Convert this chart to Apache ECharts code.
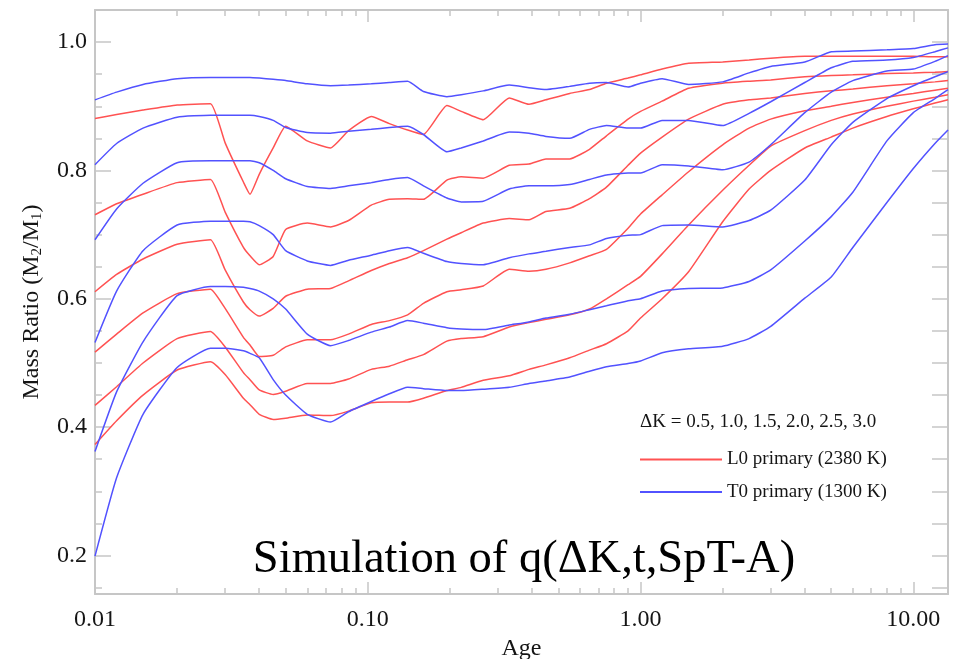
<!DOCTYPE html>
<html>
<head>
<meta charset="utf-8">
<title>Simulation of q(ΔK,t,SpT-A)</title>
<script src="https://cdn.jsdelivr.net/npm/echarts@6/dist/echarts.min.js"></script>
<style>
  html, body { margin: 0; padding: 0; background: #fff; }
  #chart { width: 955px; height: 659px; }
</style>
</head>
<body>
<div id="chart"></div>
<script>
// age (Gyr) sample points shared by every curve
const ages = [0.01, 0.012, 0.015, 0.02, 0.0265, 0.03, 0.035, 0.037, 0.04, 0.045, 0.05, 0.06, 0.073, 0.085,
  0.103, 0.12, 0.14, 0.16, 0.195, 0.22, 0.265, 0.33, 0.39, 0.45, 0.55, 0.65, 0.75, 0.9, 1.0, 1.2, 1.5,
  2, 2.5, 3, 4, 5, 6, 8, 10, 12, 13.4];

// L0 primary (2380 K), dK = 0.5 ... 3.0
const l0_05 = [0.881, 0.887, 0.894, 0.902, 0.904, 0.843, 0.782, 0.763, 0.794, 0.835, 0.869, 0.846, 0.835, 0.862,
  0.884, 0.873, 0.863, 0.856, 0.901, 0.892, 0.879, 0.913, 0.903, 0.910, 0.920, 0.926, 0.936, 0.944, 0.949, 0.958, 0.967,
  0.969, 0.972, 0.975, 0.978, 0.978, 0.978, 0.978, 0.978, 0.977, 0.977];
const l0_10 = [0.731, 0.748, 0.763, 0.781, 0.786, 0.735, 0.680, 0.667, 0.653, 0.666, 0.708, 0.718, 0.712, 0.722,
  0.746, 0.755, 0.756, 0.755, 0.785, 0.790, 0.788, 0.808, 0.810, 0.818, 0.818, 0.833, 0.854, 0.880, 0.892, 0.908, 0.928,
  0.936, 0.939, 0.941, 0.946, 0.948, 0.949, 0.951, 0.952, 0.953, 0.954];
const l0_15 = [0.611, 0.638, 0.662, 0.685, 0.692, 0.645, 0.595, 0.583, 0.573, 0.585, 0.604, 0.615, 0.616, 0.628,
  0.644, 0.655, 0.664, 0.675, 0.693, 0.703, 0.718, 0.725, 0.723, 0.736, 0.741, 0.756, 0.774, 0.808, 0.827, 0.852, 0.880,
  0.903, 0.910, 0.913, 0.920, 0.924, 0.927, 0.932, 0.935, 0.938, 0.940];
const l0_20 = [0.517, 0.545, 0.578, 0.608, 0.615, 0.585, 0.540, 0.528, 0.510, 0.512, 0.525, 0.536, 0.536, 0.545,
  0.560, 0.566, 0.575, 0.593, 0.611, 0.614, 0.620, 0.646, 0.643, 0.646, 0.656, 0.667, 0.677, 0.710, 0.732, 0.762, 0.798,
  0.840, 0.866, 0.880, 0.893, 0.900, 0.906, 0.914, 0.920, 0.925, 0.928];
const l0_25 = [0.434, 0.463, 0.500, 0.538, 0.549, 0.525, 0.485, 0.474, 0.458, 0.451, 0.456, 0.468, 0.468, 0.475,
  0.490, 0.495, 0.505, 0.513, 0.534, 0.538, 0.541, 0.556, 0.563, 0.568, 0.575, 0.584, 0.600, 0.622, 0.635, 0.670, 0.715,
  0.769, 0.808, 0.838, 0.862, 0.878, 0.888, 0.900, 0.908, 0.914, 0.918];
const l0_30 = [0.373, 0.410, 0.450, 0.489, 0.502, 0.482, 0.445, 0.435, 0.420, 0.412, 0.414, 0.419, 0.418, 0.425,
  0.438, 0.439, 0.439, 0.445, 0.457, 0.462, 0.473, 0.480, 0.490, 0.497, 0.508, 0.520, 0.530, 0.550, 0.570, 0.600, 0.642,
  0.720, 0.771, 0.800, 0.835, 0.852, 0.866, 0.884, 0.896, 0.905, 0.910];

// T0 primary (1300 K), dK = 0.5 ... 3.0
const t0_05 = [0.910, 0.922, 0.934, 0.943, 0.945, 0.945, 0.945, 0.945, 0.944, 0.942, 0.940, 0.935, 0.932, 0.933,
  0.935, 0.937, 0.939, 0.923, 0.915, 0.918, 0.924, 0.933, 0.929, 0.926, 0.931, 0.936, 0.937, 0.930, 0.936, 0.943, 0.934,
  0.938, 0.952, 0.962, 0.969, 0.985, 0.986, 0.988, 0.990, 0.996, 0.997];
const t0_10 = [0.809, 0.842, 0.866, 0.883, 0.886, 0.886, 0.886, 0.886, 0.884, 0.878, 0.867, 0.859, 0.858, 0.861,
  0.864, 0.867, 0.869, 0.856, 0.829, 0.835, 0.846, 0.860, 0.858, 0.853, 0.850, 0.864, 0.870, 0.866, 0.866, 0.878, 0.878,
  0.870, 0.889, 0.907, 0.937, 0.960, 0.970, 0.972, 0.976, 0.985, 0.991];
const t0_15 = [0.692, 0.740, 0.780, 0.812, 0.815, 0.815, 0.815, 0.815, 0.812, 0.800, 0.787, 0.775, 0.772, 0.776,
  0.781, 0.786, 0.789, 0.776, 0.757, 0.751, 0.752, 0.771, 0.776, 0.776, 0.778, 0.786, 0.793, 0.796, 0.796, 0.809, 0.807,
  0.801, 0.813, 0.840, 0.890, 0.922, 0.940, 0.955, 0.958, 0.970, 0.979];
const t0_20 = [0.532, 0.612, 0.675, 0.715, 0.721, 0.721, 0.721, 0.720, 0.714, 0.700, 0.675, 0.659, 0.652, 0.660,
  0.668, 0.675, 0.680, 0.671, 0.658, 0.655, 0.653, 0.664, 0.670, 0.674, 0.680, 0.684, 0.694, 0.699, 0.700, 0.714, 0.715,
  0.712, 0.722, 0.738, 0.785, 0.840, 0.875, 0.912, 0.932, 0.946, 0.954];
const t0_25 = [0.362, 0.455, 0.533, 0.605, 0.619, 0.619, 0.618, 0.616, 0.612, 0.600, 0.584, 0.545, 0.527, 0.535,
  0.548, 0.556, 0.566, 0.562, 0.555, 0.553, 0.552, 0.559, 0.564, 0.570, 0.576, 0.583, 0.589, 0.597, 0.600, 0.612, 0.616,
  0.617, 0.627, 0.645, 0.690, 0.728, 0.766, 0.846, 0.890, 0.912, 0.926];
const t0_30 = [0.199, 0.321, 0.420, 0.493, 0.523, 0.523, 0.519, 0.515, 0.508, 0.474, 0.450, 0.420, 0.408, 0.424,
  0.440, 0.452, 0.462, 0.460, 0.457, 0.457, 0.459, 0.462, 0.468, 0.472, 0.478, 0.487, 0.494, 0.499, 0.503, 0.516, 0.522,
  0.526, 0.538, 0.557, 0.601, 0.634, 0.680, 0.750, 0.803, 0.842, 0.863];

// tick positions
const xMajor = [0.01, 0.1, 1, 10];
const xMinor = [0.02, 0.03, 0.04, 0.05, 0.06, 0.07, 0.08, 0.09, 0.2, 0.3, 0.4, 0.5, 0.6, 0.7, 0.8, 0.9,
  2, 3, 4, 5, 6, 7, 8, 9];
const yMajor = [0.2, 0.4, 0.6, 0.8, 1.0];
const yMinor = [0.15, 0.25, 0.3, 0.35, 0.45, 0.5, 0.55, 0.65, 0.7, 0.75, 0.85, 0.9, 0.95];
const yAll = [0.15, 0.2, 0.25, 0.3, 0.35, 0.4, 0.45, 0.5, 0.55, 0.6, 0.65, 0.7, 0.75, 0.8, 0.85, 0.9, 0.95, 1.0];

const L0_NAME = 'L0 primary (2380 K)';
const T0_NAME = 'T0 primary (1300 K)';
const serif = "'Liberation Serif', 'DejaVu Serif', serif";
const red = '#ff5252';
const blue = '#5252ff';
const gray = '#c6c6c6';
const ink = '#151515';

function curve(name, color, values) {
  return {
    name: name,
    type: 'line',
    xAxisIndex: 0,
    yAxisIndex: 0,
    data: ages.map((a, i) => [a, values[i]]),
    symbol: 'none',
    showSymbol: false,
    smooth: 0.15,
    lineStyle: { color: color, width: 1.5 },
    itemStyle: { color: color },
    emphasis: { disabled: true }
  };
}

const xBase = {
  type: 'log', logBase: 10, min: 0.01, max: 13.4, gridIndex: 0,
  splitLine: { show: false },
  axisLine: { show: false, onZero: false },
  axisLabel: { show: false },
  axisTick: { show: false }
};
const yBase = {
  type: 'value', min: 0.14, max: 1.05, gridIndex: 0,
  splitLine: { show: false },
  axisLine: { show: false, onZero: false },
  axisLabel: { show: false },
  axisTick: { show: false }
};
const frameLine = { show: true, onZero: false, lineStyle: { color: gray, width: 2 } };
const tickStyle = { color: gray, width: 1.5 };

const chart = echarts.init(document.getElementById('chart'));

var option = {
  backgroundColor: '#ffffff',
  animation: false,
  grid: { left: 95, right: 7, top: 10, bottom: 65, containLabel: false, outerBoundsMode: 'none' },
  xAxis: [
    Object.assign({}, xBase, {
      position: 'bottom',
      axisLine: frameLine,
      axisTick: { show: true, inside: true, length: 12, customValues: xMajor, lineStyle: tickStyle },
      axisLabel: {
        show: true, customValues: xMajor, margin: 14,
        formatter: v => Number(v).toFixed(2),
        fontFamily: serif, fontSize: 24, color: ink
      },
      name: 'Age', nameLocation: 'middle', nameGap: 43,
      nameTextStyle: { fontFamily: serif, fontSize: 24, color: ink }
    }),
    Object.assign({}, xBase, {
      position: 'bottom',
      axisTick: { show: true, inside: true, length: 6, customValues: xMinor, lineStyle: tickStyle }
    }),
    Object.assign({}, xBase, {
      position: 'top',
      axisLine: frameLine,
      axisTick: { show: true, inside: true, length: 12, customValues: xMajor, lineStyle: tickStyle }
    }),
    Object.assign({}, xBase, {
      position: 'top',
      axisTick: { show: true, inside: true, length: 6, customValues: xMinor, lineStyle: tickStyle }
    })
  ],
  yAxis: [
    Object.assign({}, yBase, {
      position: 'left',
      axisLine: frameLine,
      axisTick: { show: true, inside: true, length: 16, customValues: yMajor, lineStyle: tickStyle },
      axisLabel: {
        show: true, customValues: yMajor, margin: 8,
        formatter: v => Number(v).toFixed(1),
        fontFamily: serif, fontSize: 24, color: ink
      },
      name: '{a|Mass Ratio (M}{s|2}{a|/M}{s|1}{a|)}',
      nameLocation: 'middle', nameRotate: 90, nameGap: 50,
      nameTextStyle: {
        rich: {
          a: { fontFamily: serif, fontSize: 24, color: ink },
          s: { fontFamily: serif, fontSize: 15, color: ink, padding: [12, 0, 0, 0] }
        }
      }
    }),
    Object.assign({}, yBase, {
      position: 'left',
      axisTick: { show: true, inside: true, length: 7, customValues: yMinor, lineStyle: tickStyle }
    }),
    Object.assign({}, yBase, {
      position: 'right',
      axisLine: frameLine,
      axisTick: { show: true, inside: true, length: 16, customValues: yAll, lineStyle: tickStyle }
    })
  ],
  legend: {
    orient: 'vertical',
    left: 640,
    top: 450,
    padding: 0,
    icon: 'rect',
    itemWidth: 82,
    itemHeight: 2,
    itemGap: 13.5,
    selectedMode: false,
    textStyle: { fontFamily: serif, fontSize: 19, color: ink },
    data: [L0_NAME, T0_NAME]
  },
  graphic: [
    {
      type: 'text', x: 640, y: 422,
      style: { text: 'ΔK = 0.5, 1.0, 1.5, 2.0, 2.5, 3.0', align: 'left', verticalAlign: 'middle',
        fontFamily: serif, fontSize: 19, fill: ink }
    },
    {
      type: 'text', x: 524, y: 560,
      style: { text: 'Simulation of q(ΔK,t,SpT-A)', align: 'center', verticalAlign: 'middle',
        fontFamily: serif, fontSize: 46.5, fill: '#000' }
    }
  ],
  series: [
    curve(L0_NAME, red, l0_05),
    curve(L0_NAME, red, l0_10),
    curve(L0_NAME, red, l0_15),
    curve(L0_NAME, red, l0_20),
    curve(L0_NAME, red, l0_25),
    curve(L0_NAME, red, l0_30),
    curve(T0_NAME, blue, t0_05),
    curve(T0_NAME, blue, t0_10),
    curve(T0_NAME, blue, t0_15),
    curve(T0_NAME, blue, t0_20),
    curve(T0_NAME, blue, t0_25),
    curve(T0_NAME, blue, t0_30)
  ]
};

chart.setOption(option);
</script>
</body>
</html>
